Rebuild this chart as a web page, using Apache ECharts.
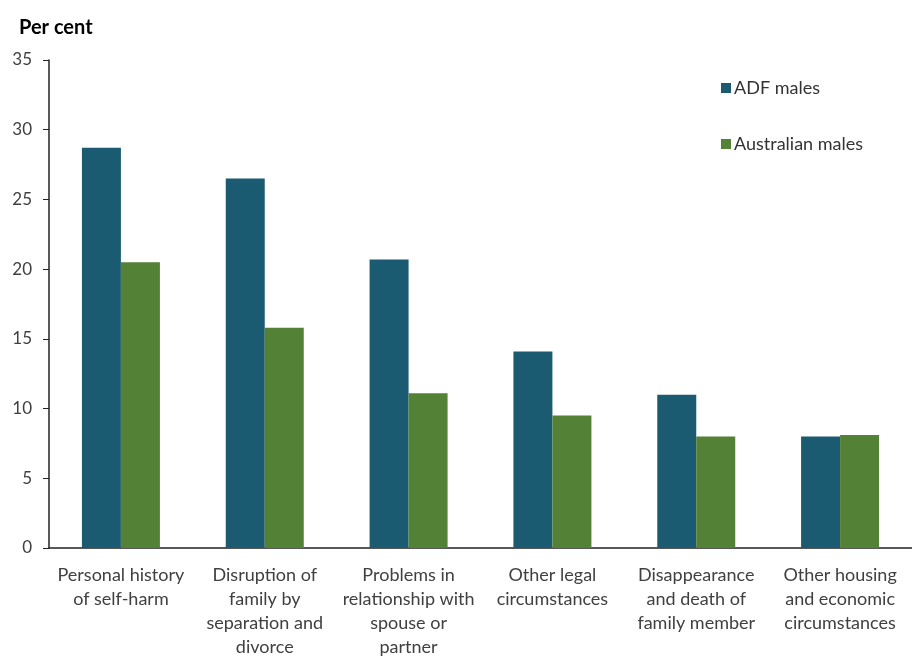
<!DOCTYPE html>
<html><head><meta charset="utf-8">
<script src="https://cdn.jsdelivr.net/npm/echarts@6/dist/echarts.min.js"></script>
<style>html,body{margin:0;padding:0;background:#fff;overflow:hidden}#c{width:912px;height:659px}</style>
</head><body><div id="c"></div>
<script>
const categories = [
  "Personal history\nof self-harm",
  "Disruption of\nfamily by\nseparation and\ndivorce",
  "Problems in\nrelationship with\nspouse or\npartner",
  "Other legal\ncircumstances",
  "Disappearance\nand death of\nfamily member",
  "Other housing\nand economic\ncircumstances"
];
const adfMales = [28.7, 26.5, 20.7, 14.1, 11.0, 8.0];
const australianMales = [20.5, 15.8, 11.1, 9.5, 8.0, 8.1];
const seriesNames = ["ADF males", "Australian males"];

const font = "Lato, 'Open Sans', sans-serif";
const chart = echarts.init(document.getElementById('c'), null, {renderer: 'canvas'});
chart.setOption({
  animation: false,
  textStyle: {fontFamily: font},
  title: {text: 'Per cent', left: 14, top: 13, textStyle: {fontFamily: font, fontSize: 20, fontWeight: 'bold', color: '#000'}},
  legend: {
    orient: 'vertical', left: 716, top: 74, itemGap: 38, itemWidth: 10, itemHeight: 10,
    icon: 'rect',
    textStyle: {fontFamily: font, fontSize: 18, color: '#333', padding: [0,0,0,-2]},
    data: seriesNames
  },
  grid: {left: 49, right: -12, top: 60, bottom: 108, containLabel: false},
  xAxis: {
    type: 'category', data: categories,
    axisLine: {lineStyle: {color: '#222', width: 1.5}},
    axisTick: {show: false},
    axisLabel: {interval: 0, fontFamily: font, fontSize: 18, color: '#404040', lineHeight: 24, margin: 15}
  },
  yAxis: {
    type: 'value', min: 0, max: 35, interval: 5,
    axisLine: {show: true, lineStyle: {color: '#222', width: 1.5}},
    axisTick: {show: true, length: 6, lineStyle: {color: '#222'}},
    splitLine: {show: false},
    axisLabel: {fontFamily: font, fontSize: 17, color: '#404040', margin: 17}
  },
  series: [
    {name: seriesNames[0], type: 'bar', data: adfMales, barWidth: 39, barGap: '0%', itemStyle: {color: '#1b5b72'}},
    {name: seriesNames[1], type: 'bar', data: australianMales, barWidth: 39, barGap: '0%', itemStyle: {color: '#538135'}}
  ]
});
</script></body></html>
